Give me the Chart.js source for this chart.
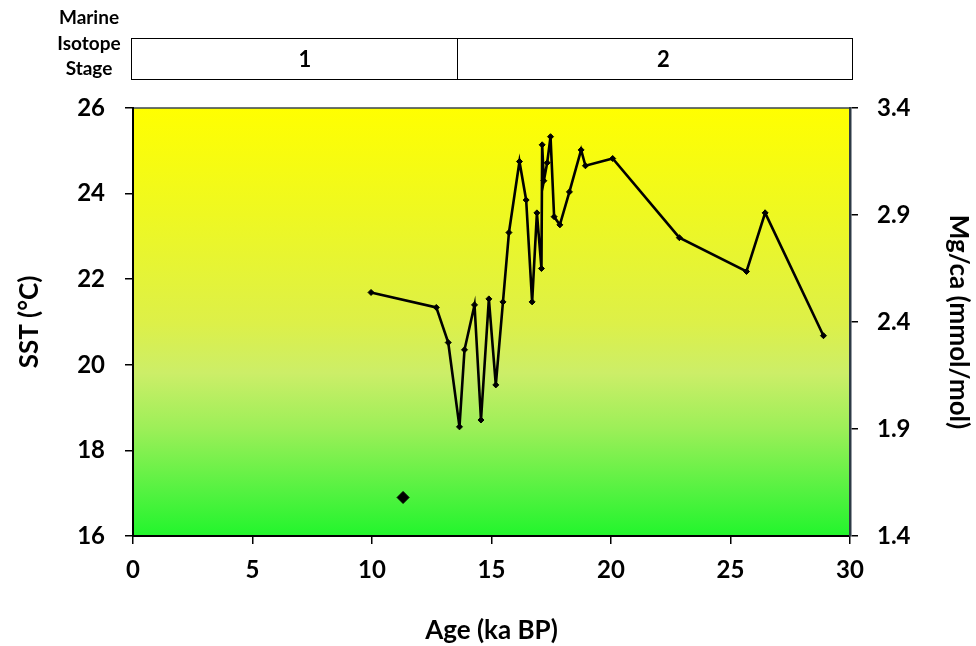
<!DOCTYPE html>
<html>
<head>
<meta charset="utf-8">
<script src="https://cdn.jsdelivr.net/npm/chart.js@4/dist/chart.umd.min.js"></script>
<style>
  html, body { margin: 0; padding: 0; background: #ffffff; }
  canvas { display: block; }
</style>
</head>
<body>
<canvas id="chart" width="976" height="646"></canvas>
<script>
// Core-top to glacial SST record (Mg/Ca derived)
const ageKa = [9.96, 12.69, 13.19, 13.66, 13.87, 14.29, 14.56, 14.89, 15.18, 15.48,
               15.73, 16.17, 16.45, 16.70, 16.90, 17.09, 17.12, 17.19, 17.33, 17.47,
               17.62, 17.86, 18.26, 18.75, 18.93, 20.07, 22.86, 25.67, 26.45, 28.89];
const sstC  = [21.69, 21.34, 20.52, 18.55, 20.35, 21.40, 18.71, 21.54, 19.53, 21.47,
               23.09, 24.75, 23.85, 21.47, 23.55, 22.25, 25.14, 24.30, 24.72, 25.33,
               23.46, 23.27, 24.04, 25.02, 24.65, 24.82, 22.97, 22.18, 23.55, 20.68];

// Single isolated sample
const soloAge = [11.3];
const soloSst = [16.9];

// Axis ranges and tick labels
const ageTicks   = [0, 5, 10, 15, 20, 25, 30];
const sstTicks   = [16, 18, 20, 22, 24, 26];
const mgcaTicks  = [1.4, 1.9, 2.4, 2.9, 3.4];

// Marine Isotope Stage bar
const misLabels   = ['1', '2'];
const misBoundsKa = [0, 13.55, 30];
const misTitle    = ['Marine', 'Isotope', 'Stage'];

const FONT = 'Lato, "Open Sans", sans-serif';

const toPoints = (xs, ys) => xs.map((x, i) => ({ x: x, y: ys[i] }));

// Yellow-to-green background behind the plot area
const backdrop = {
  id: 'backdrop',
  beforeDraw(chart) {
    const { ctx, chartArea: a } = chart;
    const g = ctx.createLinearGradient(0, a.top, 0, a.bottom);
    g.addColorStop(0.00, '#FFFF00');
    g.addColorStop(0.25, '#EEF822');
    g.addColorStop(0.50, '#DDF048');
    g.addColorStop(0.62, '#CCEE68');
    g.addColorStop(0.75, '#9CEF58');
    g.addColorStop(0.90, '#52F240');
    g.addColorStop(1.00, '#22F52C');
    ctx.save();
    ctx.fillStyle = g;
    ctx.fillRect(a.left, a.top, a.right - a.left, a.bottom - a.top);
    ctx.strokeStyle = '#3A4550';
    ctx.lineWidth = 1.5;
    ctx.beginPath();
    ctx.moveTo(a.left, a.top);
    ctx.lineTo(a.right, a.top);
    ctx.stroke();
    ctx.restore();
  }
};

// Stage bar above the plot
const stageBar = {
  id: 'stageBar',
  afterDraw(chart) {
    const { ctx } = chart;
    const xs = chart.scales.x;
    const top = 38, bottom = 79;
    const px = misBoundsKa.map(v => xs.getPixelForValue(v));
    ctx.save();
    ctx.strokeStyle = '#000';
    ctx.lineWidth = 1;
    ctx.strokeRect(px[0] - 2 + 0.5, top + 0.5, px[px.length - 1] - px[0] + 4, bottom - top);
    for (let i = 1; i < px.length - 1; i++) {
      ctx.beginPath();
      ctx.moveTo(Math.round(px[i]) + 0.5, top);
      ctx.lineTo(Math.round(px[i]) + 0.5, bottom);
      ctx.stroke();
    }
    ctx.fillStyle = '#000';
    ctx.font = 'bold 22px ' + FONT;
    ctx.textAlign = 'center';
    ctx.textBaseline = 'middle';
    misLabels.forEach((lab, i) => {
      ctx.fillText(lab, (px[i] + px[i + 1]) / 2 + 10, (top + bottom) / 2 + 1);
    });
    ctx.font = 'bold 19px ' + FONT;
    misTitle.forEach((line, i) => {
      ctx.fillText(line, 89, 18 + i * 25.5);
    });
    ctx.restore();
  }
};

const axisTickFont = { family: FONT, size: 24, weight: 'bold' };
const axisTitleFont = { family: FONT, size: 26, weight: 'bold' };

new Chart(document.getElementById('chart'), {
  type: 'scatter',
  data: {
    datasets: [
      {
        label: 'SST',
        data: toPoints(ageKa, sstC),
        showLine: true,
        borderColor: '#000',
        borderWidth: 2.6,
        pointStyle: 'rectRot',
        pointRadius: 3,
        pointBackgroundColor: '#000',
        pointBorderColor: '#000',
        pointBorderWidth: 1,
        tension: 0,
        yAxisID: 'y'
      },
      {
        label: 'Isolated sample',
        data: toPoints(soloAge, soloSst),
        showLine: false,
        pointStyle: 'rectRot',
        pointRadius: 6,
        pointBackgroundColor: '#000',
        pointBorderColor: '#000',
        yAxisID: 'y'
      }
    ]
  },
  options: {
    responsive: false,
    animation: false,
    layout: { padding: { top: 108, left: 0, right: 0, bottom: 0 } },
    plugins: { legend: { display: false }, tooltip: { enabled: false } },
    scales: {
      x: {
        type: 'linear',
        min: ageTicks[0],
        max: ageTicks[ageTicks.length - 1],
        afterBuildTicks: s => { s.ticks = ageTicks.map(v => ({ value: v })); },
        afterFit: s => { s.height = 110; },
        grid: { drawOnChartArea: false, tickLength: 8, color: '#000', lineWidth: 1.5 },
        border: { display: true, color: '#000', width: 2 },
        ticks: { font: axisTickFont, color: '#000', padding: 12, maxRotation: 0 },
        title: { display: true, text: 'Age (ka BP)', font: axisTitleFont, color: '#000', padding: { top: 0, bottom: 0 } }
      },
      y: {
        type: 'linear',
        position: 'left',
        min: sstTicks[0],
        max: sstTicks[sstTicks.length - 1],
        afterBuildTicks: s => { s.ticks = sstTicks.map(v => ({ value: v })); },
        afterFit: s => { s.width = 133; },
        grid: { drawOnChartArea: false, tickLength: 8, color: '#000', lineWidth: 1.5 },
        border: { display: true, color: '#000', width: 2 },
        ticks: { font: axisTickFont, color: '#000', padding: 20 },
        title: { display: true, text: 'SST (°C)', font: axisTitleFont, color: '#000', padding: { top: 14, bottom: 0 } }
      },
      y2: {
        type: 'linear',
        position: 'right',
        min: mgcaTicks[0],
        max: mgcaTicks[mgcaTicks.length - 1],
        afterBuildTicks: s => { s.ticks = mgcaTicks.map(v => ({ value: v })); },
        afterFit: s => { s.width = 126; },
        grid: { drawOnChartArea: false, tickLength: 8, color: '#000', lineWidth: 1.5 },
        border: { display: true, color: '#2E3A46', width: 2.5 },
        ticks: { font: axisTickFont, color: '#000', padding: 19, callback: v => v.toFixed(1) },
        title: { display: true, text: 'Mg/ca (mmol/mol)', font: axisTitleFont, color: '#000', padding: { top: 2, bottom: 0 } }
      }
    }
  },
  plugins: [backdrop, stageBar]
});
</script>
</body>
</html>
